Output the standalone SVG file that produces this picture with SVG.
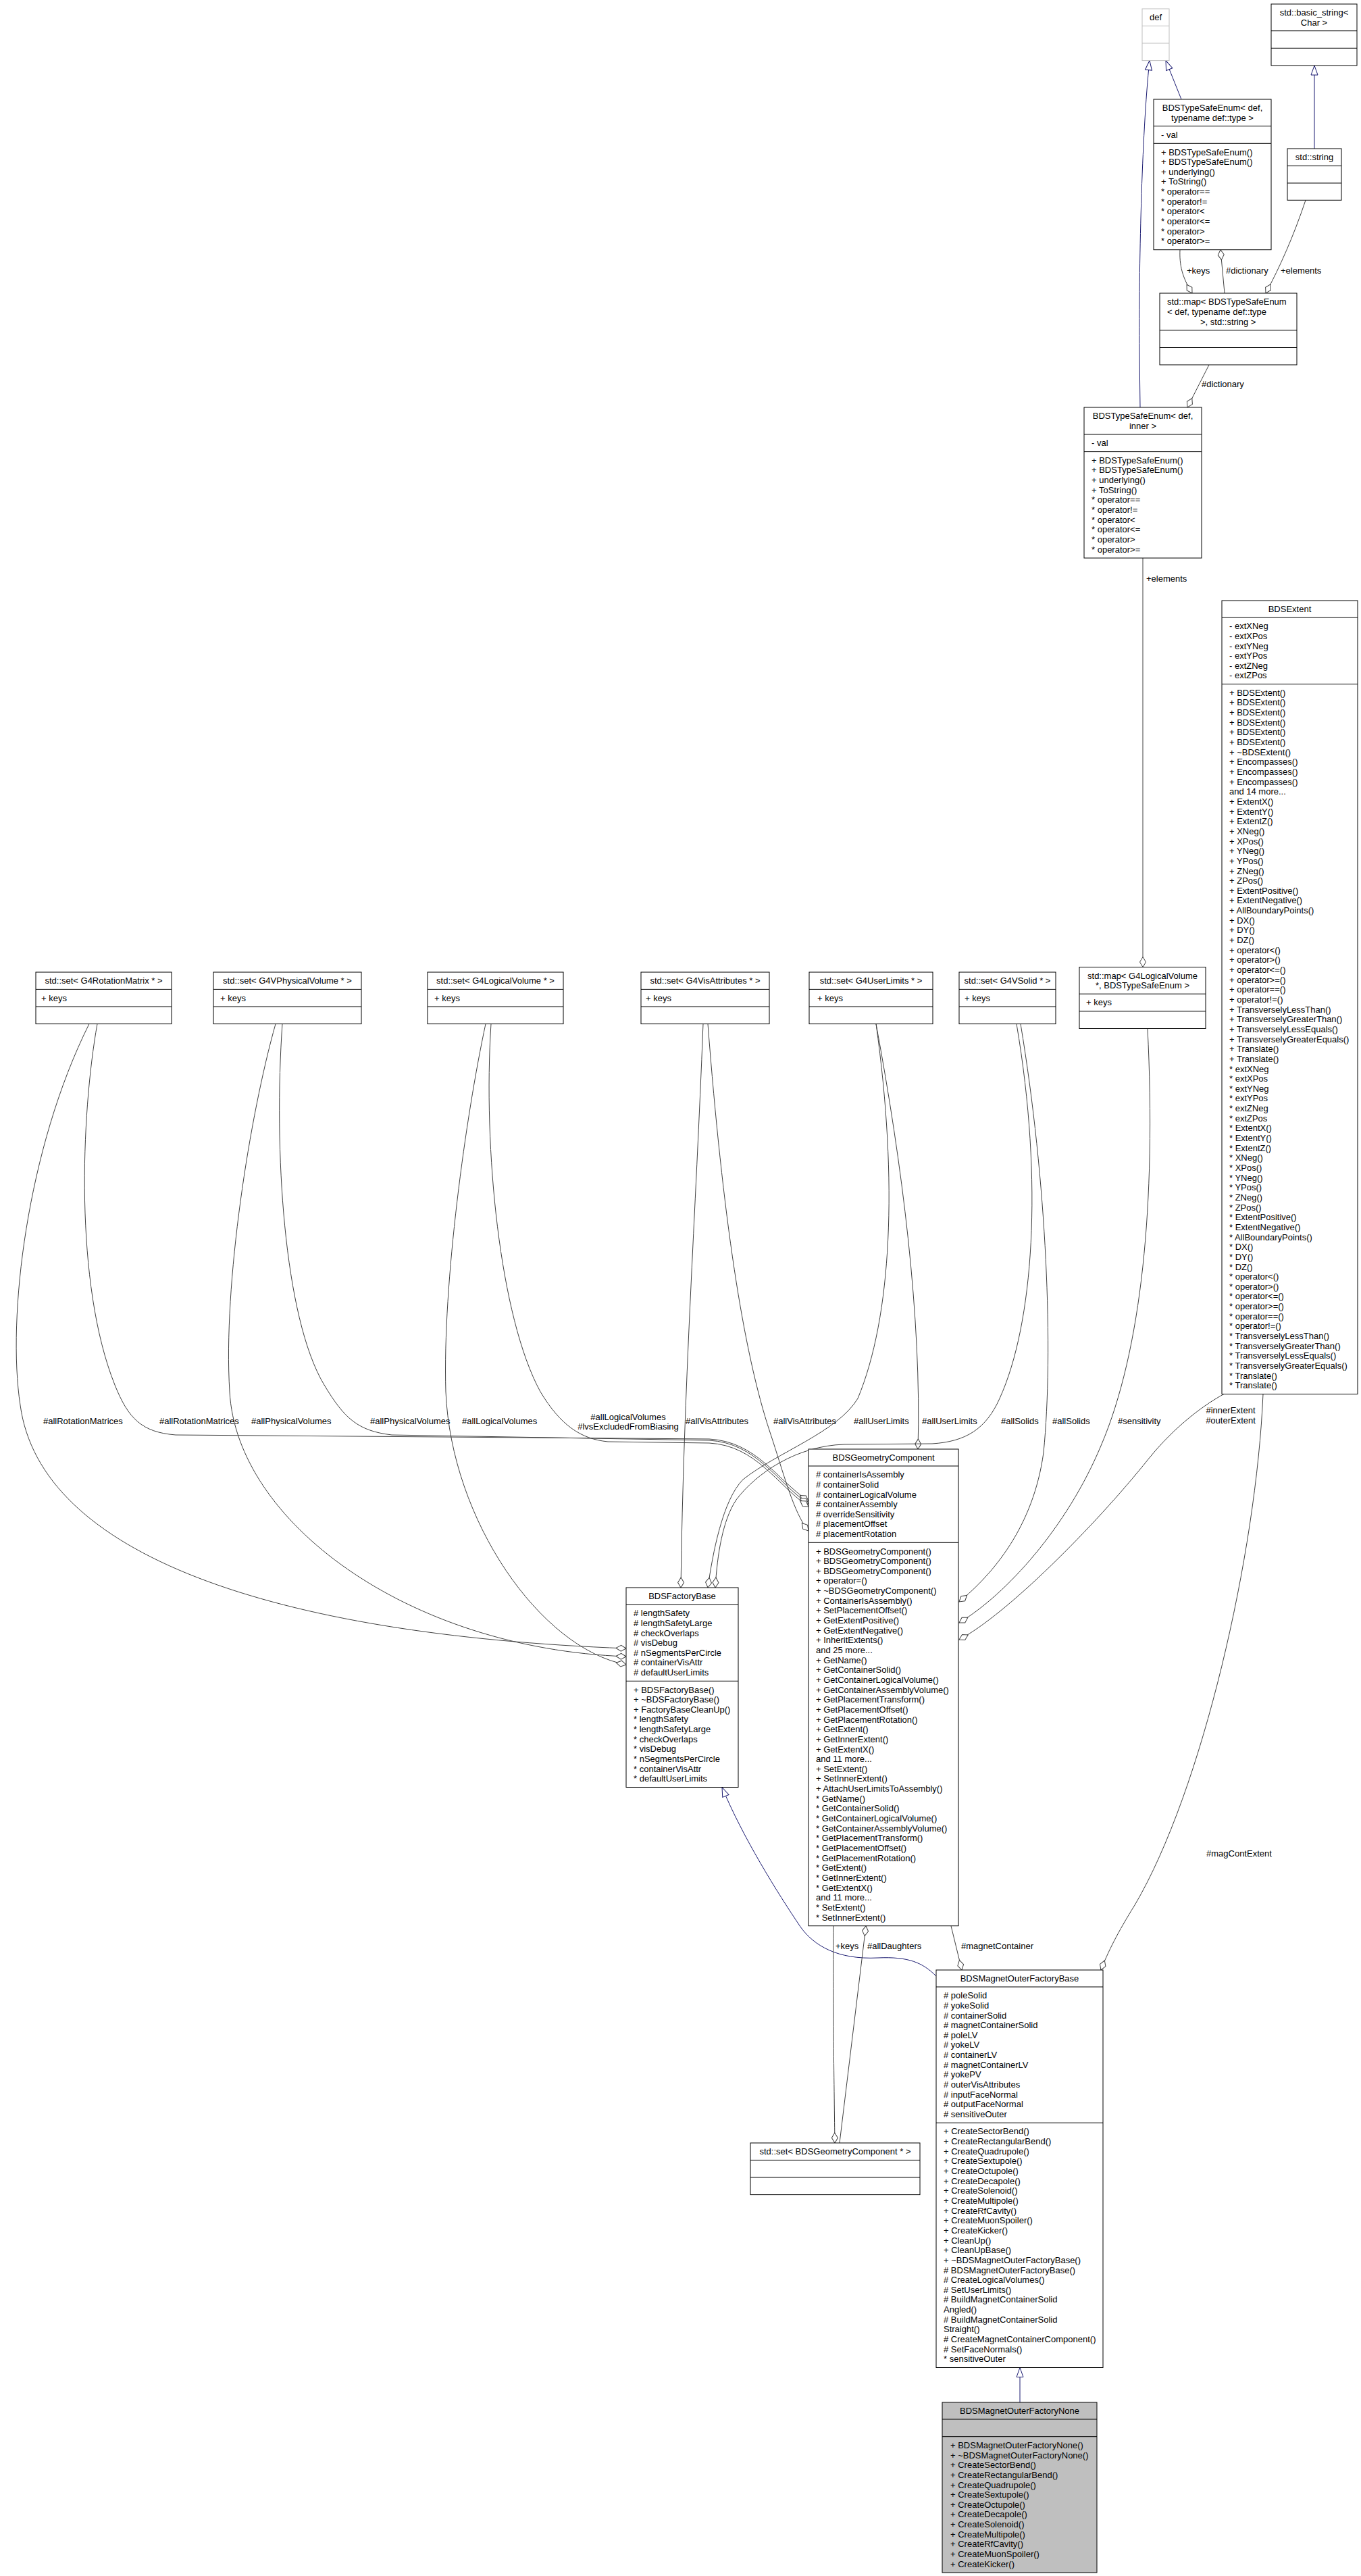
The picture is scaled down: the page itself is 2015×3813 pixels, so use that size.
<svg xmlns="http://www.w3.org/2000/svg" width="2015" height="3813" viewBox="0 0 2015 3813">
<style>
text{font-family:"Liberation Sans",Arial,Helvetica,sans-serif;font-size:13px;fill:#000}
.c{text-anchor:middle}
.n rect{fill:#fff;stroke:#000;stroke-width:1}
.n line{stroke:#000;stroke-width:1}
.g rect{fill:#bfbfbf}
.u rect,.u line{stroke:#bfbfbf}
.e{fill:none;stroke:#404040;stroke-width:1;marker-end:url(#dia)}
.i{fill:none;stroke:#191970;stroke-width:1;marker-end:url(#tri)}
</style>
<defs>
<marker id="dia" markerUnits="userSpaceOnUse" markerWidth="16" markerHeight="12" refX="15" refY="5" orient="auto" overflow="visible"><path d="M0,5 L7.5,0.5 L15,5 L7.5,9.5 Z" fill="#fff" stroke="#404040" stroke-width="1"/></marker>
<marker id="tri" markerUnits="userSpaceOnUse" markerWidth="15" markerHeight="12" refX="14" refY="5" orient="auto" overflow="visible"><path d="M0,0 L14,5 L0,10 Z" fill="#fff" stroke="#191970" stroke-width="1"/></marker>
</defs>
<rect width="2015" height="3813" fill="#fff"/>

<g id="connectors">
<path class="i" d="M1749,147 L1726,89.6"/>
<path class="i" d="M1688,603 L1687,520 C1686,400 1690,200 1702,89.6"/>
<path class="i" d="M1946,220 L1946,97"/>
<path class="i" d="M1510,3556 L1510,3504.5"/>
<path class="i" d="M1386,2925 C1366,2905 1345,2896 1300,2898 C1240,2901 1205,2880 1185,2852 C1150,2800 1100,2720 1069,2645.5"/>

<path class="e" d="M1747,369.7 C1746,392 1750,410 1765,434"/>
<path class="e" d="M1813,434 L1807,369.7"/>
<path class="e" d="M1933,296.3 C1915,350 1895,395 1874,434"/>
<path class="e" d="M1790,540 L1758,603"/>
<path class="e" d="M1692,826 L1692,1431.5"/>

<path class="e" d="M132,1515.6 C40,1700 10,1950 30,2080 C60,2300 400,2420 927,2440"/>
<path class="e" d="M144,1515.6 C120,1650 110,1900 170,2050 C190,2100 210,2120 260,2124 L1050,2130 C1120,2134 1150,2190 1197,2222"/>
<path class="e" d="M408,1515.6 C370,1650 330,1900 340,2060 C350,2250 600,2440 927,2452"/>
<path class="e" d="M418,1515.6 C405,1700 420,1950 480,2050 C510,2100 530,2118 580,2124 L1050,2132 C1120,2136 1150,2194 1197,2226"/>
<path class="e" d="M719,1515.6 C690,1650 655,1900 660,2060 C668,2250 800,2440 927,2464"/>
<path class="e" d="M727,1515.6 C715,1700 740,1950 800,2060 C830,2110 860,2130 900,2134 L1050,2136 C1120,2140 1150,2198 1197,2230"/>
<path class="e" d="M1041,1515.6 C1030,1800 1012,2050 1008,2350"/>
<path class="e" d="M1048,1515.6 C1070,1800 1100,2000 1140,2120 C1160,2180 1175,2240 1197,2266"/>
<path class="e" d="M1297,1515.6 C1330,1750 1320,1950 1270,2070 C1240,2120 1150,2150 1100,2190 C1070,2220 1055,2300 1048,2350"/>
<path class="e" d="M1297,1515.6 C1335,1720 1365,1950 1359,2145"/>
<path class="e" d="M1505,1515.6 C1545,1750 1530,1960 1480,2070 C1460,2115 1430,2134 1380,2137 L1250,2138 C1180,2140 1120,2180 1090,2220 C1070,2250 1062,2300 1059,2350"/>
<path class="e" d="M1511,1515.6 C1550,1750 1560,2000 1545,2150 C1530,2260 1470,2330 1420,2371"/>
<path class="e" d="M1699,1522.5 C1712,1780 1690,2000 1630,2140 C1580,2260 1490,2360 1420,2402"/>
<path class="e" d="M1812,2063.5 C1785,2078 1740,2110 1700,2160 C1620,2260 1490,2390 1420,2427"/>
<path class="e" d="M1870,2063.5 C1860,2300 1780,2650 1680,2820 C1655,2860 1640,2890 1630,2916"/>
<path class="e" d="M1408,2850.7 L1424,2916"/>
<path class="e" d="M1234,2850.7 C1233,2950 1235,3100 1236,3172"/>
<path class="e" d="M1243,3172 L1282,2850.7"/>

<text x="1757" y="405">+keys</text>
<text x="1815" y="405">#dictionary</text>
<text x="1896" y="405">+elements</text>
<text x="1779" y="573">#dictionary</text>
<text x="1697" y="861">+elements</text>
<text x="64" y="2107.5">#allRotationMatrices</text>
<text x="236" y="2107.5">#allRotationMatrices</text>
<text x="372" y="2107.5">#allPhysicalVolumes</text>
<text x="548" y="2107.5">#allPhysicalVolumes</text>
<text x="684" y="2107.5">#allLogicalVolumes</text>
<text class="c" x="930" y="2101.5">#allLogicalVolumes</text>
<text class="c" x="930" y="2115.5">#lvsExcludedFromBiasing</text>
<text x="1015" y="2107.5">#allVisAttributes</text>
<text x="1145" y="2107.5">#allVisAttributes</text>
<text x="1264" y="2107.5">#allUserLimits</text>
<text x="1365" y="2107.5">#allUserLimits</text>
<text x="1482" y="2107.5">#allSolids</text>
<text x="1558" y="2107.5">#allSolids</text>
<text x="1655" y="2107.5">#sensitivity</text>
<text class="c" x="1822" y="2092">#innerExtent</text>
<text class="c" x="1822" y="2107">#outerExtent</text>
<text x="1786" y="2748">#magContExtent</text>
<text x="1237" y="2885">+keys</text>
<text x="1284" y="2885">#allDaughters</text>
<text x="1423" y="2885">#magnetContainer</text>
</g>

<g id="node-def" class="n u">
<rect x="1691" y="13" width="40" height="76.6"/>
<line x1="1691" y1="38.4" x2="1731" y2="38.4"/>
<line x1="1691" y1="64" x2="1731" y2="64"/>
<text class="c" x="1711" y="30.2">def</text>
</g>

<g id="node-basic_string" class="n">
<rect x="1882" y="6" width="127" height="91"/>
<line x1="1882" y1="45.7" x2="2009" y2="45.7"/>
<line x1="1882" y1="71.3" x2="2009" y2="71.3"/>
<text class="c" x="1945.5" y="23.2">std::basic_string&lt;</text>
<text class="c" x="1945.5" y="37.9">Char &gt;</text>
</g>

<g id="node-BDSTypeSafeEnum-type" class="n">
<rect x="1708" y="147" width="174" height="222.7"/>
<line x1="1708" y1="186.7" x2="1882" y2="186.7"/>
<line x1="1708" y1="212.3" x2="1882" y2="212.3"/>
<text class="c" x="1795" y="164.2">BDSTypeSafeEnum&lt; def,</text>
<text class="c" x="1795" y="178.9">typename def::type &gt;</text>
<text x="1719" y="203.9">- val</text>
<text x="1719" y="229.5"><tspan x="1719" dy="0">+ BDSTypeSafeEnum()</tspan><tspan x="1719" dy="14.65">+ BDSTypeSafeEnum()</tspan><tspan x="1719" dy="14.65">+ underlying()</tspan><tspan x="1719" dy="14.65">+ ToString()</tspan><tspan x="1719" dy="14.65">* operator==</tspan><tspan x="1719" dy="14.65">* operator!=</tspan><tspan x="1719" dy="14.65">* operator&lt;</tspan><tspan x="1719" dy="14.65">* operator&lt;=</tspan><tspan x="1719" dy="14.65">* operator&gt;</tspan><tspan x="1719" dy="14.65">* operator&gt;=</tspan></text>
</g>

<g id="node-std-string" class="n">
<rect x="1906" y="220" width="80" height="76.3"/>
<line x1="1906" y1="245.6" x2="1986" y2="245.6"/>
<line x1="1906" y1="271" x2="1986" y2="271"/>
<text class="c" x="1946" y="237.2">std::string</text>
</g>

<g id="node-map-enum-string" class="n">
<rect x="1717" y="434" width="203" height="106"/>
<line x1="1717" y1="488.9" x2="1920" y2="488.9"/>
<line x1="1717" y1="514.5" x2="1920" y2="514.5"/>
<text x="1728" y="451.2">std::map&lt; BDSTypeSafeEnum</text>
<text x="1728" y="465.9">&lt; def, typename def::type</text>
<text x="1777" y="480.5">&gt;, std::string &gt;</text>
</g>

<g id="node-BDSTypeSafeEnum-inner" class="n">
<rect x="1605" y="603" width="174" height="223"/>
<line x1="1605" y1="643" x2="1779" y2="643"/>
<line x1="1605" y1="668.6" x2="1779" y2="668.6"/>
<text class="c" x="1692" y="620.2">BDSTypeSafeEnum&lt; def,</text>
<text class="c" x="1692" y="634.9">inner &gt;</text>
<text x="1616" y="660.2">- val</text>
<text x="1616" y="685.8"><tspan x="1616" dy="0">+ BDSTypeSafeEnum()</tspan><tspan x="1616" dy="14.65">+ BDSTypeSafeEnum()</tspan><tspan x="1616" dy="14.65">+ underlying()</tspan><tspan x="1616" dy="14.65">+ ToString()</tspan><tspan x="1616" dy="14.65">* operator==</tspan><tspan x="1616" dy="14.65">* operator!=</tspan><tspan x="1616" dy="14.65">* operator&lt;</tspan><tspan x="1616" dy="14.65">* operator&lt;=</tspan><tspan x="1616" dy="14.65">* operator&gt;</tspan><tspan x="1616" dy="14.65">* operator&gt;=</tspan></text>
</g>

<g id="node-BDSExtent" class="n">
<rect x="1809" y="889" width="201" height="1174.5"/>
<line x1="1809" y1="914" x2="2010" y2="914"/>
<line x1="1809" y1="1012.6" x2="2010" y2="1012.6"/>
<text class="c" x="1909.5" y="906.2">BDSExtent</text>
<text x="1820" y="931.2"><tspan x="1820" dy="0">- extXNeg</tspan><tspan x="1820" dy="14.65">- extXPos</tspan><tspan x="1820" dy="14.65">- extYNeg</tspan><tspan x="1820" dy="14.65">- extYPos</tspan><tspan x="1820" dy="14.65">- extZNeg</tspan><tspan x="1820" dy="14.65">- extZPos</tspan></text>
<text x="1820" y="1029.8"><tspan x="1820" dy="0">+ BDSExtent()</tspan><tspan x="1820" dy="14.65">+ BDSExtent()</tspan><tspan x="1820" dy="14.65">+ BDSExtent()</tspan><tspan x="1820" dy="14.65">+ BDSExtent()</tspan><tspan x="1820" dy="14.65">+ BDSExtent()</tspan><tspan x="1820" dy="14.65">+ BDSExtent()</tspan><tspan x="1820" dy="14.65">+ ~BDSExtent()</tspan><tspan x="1820" dy="14.65">+ Encompasses()</tspan><tspan x="1820" dy="14.65">+ Encompasses()</tspan><tspan x="1820" dy="14.65">+ Encompasses()</tspan><tspan x="1820" dy="14.65">and 14 more...</tspan><tspan x="1820" dy="14.65">+ ExtentX()</tspan><tspan x="1820" dy="14.65">+ ExtentY()</tspan><tspan x="1820" dy="14.65">+ ExtentZ()</tspan><tspan x="1820" dy="14.65">+ XNeg()</tspan><tspan x="1820" dy="14.65">+ XPos()</tspan><tspan x="1820" dy="14.65">+ YNeg()</tspan><tspan x="1820" dy="14.65">+ YPos()</tspan><tspan x="1820" dy="14.65">+ ZNeg()</tspan><tspan x="1820" dy="14.65">+ ZPos()</tspan><tspan x="1820" dy="14.65">+ ExtentPositive()</tspan><tspan x="1820" dy="14.65">+ ExtentNegative()</tspan><tspan x="1820" dy="14.65">+ AllBoundaryPoints()</tspan><tspan x="1820" dy="14.65">+ DX()</tspan><tspan x="1820" dy="14.65">+ DY()</tspan><tspan x="1820" dy="14.65">+ DZ()</tspan><tspan x="1820" dy="14.65">+ operator&lt;()</tspan><tspan x="1820" dy="14.65">+ operator&gt;()</tspan><tspan x="1820" dy="14.65">+ operator&lt;=()</tspan><tspan x="1820" dy="14.65">+ operator&gt;=()</tspan><tspan x="1820" dy="14.65">+ operator==()</tspan><tspan x="1820" dy="14.65">+ operator!=()</tspan><tspan x="1820" dy="14.65">+ TransverselyLessThan()</tspan><tspan x="1820" dy="14.65">+ TransverselyGreaterThan()</tspan><tspan x="1820" dy="14.65">+ TransverselyLessEquals()</tspan><tspan x="1820" dy="14.65">+ TransverselyGreaterEquals()</tspan><tspan x="1820" dy="14.65">+ Translate()</tspan><tspan x="1820" dy="14.65">+ Translate()</tspan><tspan x="1820" dy="14.65">* extXNeg</tspan><tspan x="1820" dy="14.65">* extXPos</tspan><tspan x="1820" dy="14.65">* extYNeg</tspan><tspan x="1820" dy="14.65">* extYPos</tspan><tspan x="1820" dy="14.65">* extZNeg</tspan><tspan x="1820" dy="14.65">* extZPos</tspan><tspan x="1820" dy="14.65">* ExtentX()</tspan><tspan x="1820" dy="14.65">* ExtentY()</tspan><tspan x="1820" dy="14.65">* ExtentZ()</tspan><tspan x="1820" dy="14.65">* XNeg()</tspan><tspan x="1820" dy="14.65">* XPos()</tspan><tspan x="1820" dy="14.65">* YNeg()</tspan><tspan x="1820" dy="14.65">* YPos()</tspan><tspan x="1820" dy="14.65">* ZNeg()</tspan><tspan x="1820" dy="14.65">* ZPos()</tspan><tspan x="1820" dy="14.65">* ExtentPositive()</tspan><tspan x="1820" dy="14.65">* ExtentNegative()</tspan><tspan x="1820" dy="14.65">* AllBoundaryPoints()</tspan><tspan x="1820" dy="14.65">* DX()</tspan><tspan x="1820" dy="14.65">* DY()</tspan><tspan x="1820" dy="14.65">* DZ()</tspan><tspan x="1820" dy="14.65">* operator&lt;()</tspan><tspan x="1820" dy="14.65">* operator&gt;()</tspan><tspan x="1820" dy="14.65">* operator&lt;=()</tspan><tspan x="1820" dy="14.65">* operator&gt;=()</tspan><tspan x="1820" dy="14.65">* operator==()</tspan><tspan x="1820" dy="14.65">* operator!=()</tspan><tspan x="1820" dy="14.65">* TransverselyLessThan()</tspan><tspan x="1820" dy="14.65">* TransverselyGreaterThan()</tspan><tspan x="1820" dy="14.65">* TransverselyLessEquals()</tspan><tspan x="1820" dy="14.65">* TransverselyGreaterEquals()</tspan><tspan x="1820" dy="14.65">* Translate()</tspan><tspan x="1820" dy="14.65">* Translate()</tspan></text>
</g>

<g id="node-set-G4RotationMatrix" class="n">
<rect x="53" y="1439" width="201" height="76.6"/>
<line x1="53" y1="1464.4" x2="254" y2="1464.4"/>
<line x1="53" y1="1490" x2="254" y2="1490"/>
<text class="c" x="153.5" y="1456.2">std::set&lt; G4RotationMatrix * &gt;</text>
<text x="61" y="1481.6">+ keys</text>
</g>

<g id="node-set-G4VPhysicalVolume" class="n">
<rect x="316" y="1439" width="219" height="76.6"/>
<line x1="316" y1="1464.4" x2="535" y2="1464.4"/>
<line x1="316" y1="1490" x2="535" y2="1490"/>
<text class="c" x="425.5" y="1456.2">std::set&lt; G4VPhysicalVolume * &gt;</text>
<text x="326" y="1481.6">+ keys</text>
</g>

<g id="node-set-G4LogicalVolume" class="n">
<rect x="633" y="1439" width="201" height="76.6"/>
<line x1="633" y1="1464.4" x2="834" y2="1464.4"/>
<line x1="633" y1="1490" x2="834" y2="1490"/>
<text class="c" x="733.5" y="1456.2">std::set&lt; G4LogicalVolume * &gt;</text>
<text x="643" y="1481.6">+ keys</text>
</g>

<g id="node-set-G4VisAttributes" class="n">
<rect x="949" y="1439" width="190" height="76.6"/>
<line x1="949" y1="1464.4" x2="1139" y2="1464.4"/>
<line x1="949" y1="1490" x2="1139" y2="1490"/>
<text class="c" x="1044" y="1456.2">std::set&lt; G4VisAttributes * &gt;</text>
<text x="956" y="1481.6">+ keys</text>
</g>

<g id="node-set-G4UserLimits" class="n">
<rect x="1198" y="1439" width="183" height="76.6"/>
<line x1="1198" y1="1464.4" x2="1381" y2="1464.4"/>
<line x1="1198" y1="1490" x2="1381" y2="1490"/>
<text class="c" x="1289.5" y="1456.2">std::set&lt; G4UserLimits * &gt;</text>
<text x="1210" y="1481.6">+ keys</text>
</g>

<g id="node-set-G4VSolid" class="n">
<rect x="1420" y="1439" width="143" height="76.6"/>
<line x1="1420" y1="1464.4" x2="1563" y2="1464.4"/>
<line x1="1420" y1="1490" x2="1563" y2="1490"/>
<text class="c" x="1491.5" y="1456.2">std::set&lt; G4VSolid * &gt;</text>
<text x="1428" y="1481.6">+ keys</text>
</g>

<g id="node-map-G4LogicalVolume" class="n">
<rect x="1598" y="1431.5" width="187" height="91"/>
<line x1="1598" y1="1471.2" x2="1785" y2="1471.2"/>
<line x1="1598" y1="1496.9" x2="1785" y2="1496.9"/>
<text class="c" x="1691.5" y="1448.7">std::map&lt; G4LogicalVolume</text>
<text class="c" x="1691.5" y="1463.4">*, BDSTypeSafeEnum &gt;</text>
<text x="1608" y="1488.4">+ keys</text>
</g>

<g id="node-BDSGeometryComponent" class="n">
<rect x="1197" y="2145" width="222" height="705.7"/>
<line x1="1197" y1="2170" x2="1419" y2="2170"/>
<line x1="1197" y1="2283.3" x2="1419" y2="2283.3"/>
<text class="c" x="1308" y="2162.2">BDSGeometryComponent</text>
<text x="1208" y="2187.2"><tspan x="1208" dy="0"># containerIsAssembly</tspan><tspan x="1208" dy="14.65"># containerSolid</tspan><tspan x="1208" dy="14.65"># containerLogicalVolume</tspan><tspan x="1208" dy="14.65"># containerAssembly</tspan><tspan x="1208" dy="14.65"># overrideSensitivity</tspan><tspan x="1208" dy="14.65"># placementOffset</tspan><tspan x="1208" dy="14.65"># placementRotation</tspan></text>
<text x="1208" y="2300.5"><tspan x="1208" dy="0">+ BDSGeometryComponent()</tspan><tspan x="1208" dy="14.65">+ BDSGeometryComponent()</tspan><tspan x="1208" dy="14.65">+ BDSGeometryComponent()</tspan><tspan x="1208" dy="14.65">+ operator=()</tspan><tspan x="1208" dy="14.65">+ ~BDSGeometryComponent()</tspan><tspan x="1208" dy="14.65">+ ContainerIsAssembly()</tspan><tspan x="1208" dy="14.65">+ SetPlacementOffset()</tspan><tspan x="1208" dy="14.65">+ GetExtentPositive()</tspan><tspan x="1208" dy="14.65">+ GetExtentNegative()</tspan><tspan x="1208" dy="14.65">+ InheritExtents()</tspan><tspan x="1208" dy="14.65">and 25 more...</tspan><tspan x="1208" dy="14.65">+ GetName()</tspan><tspan x="1208" dy="14.65">+ GetContainerSolid()</tspan><tspan x="1208" dy="14.65">+ GetContainerLogicalVolume()</tspan><tspan x="1208" dy="14.65">+ GetContainerAssemblyVolume()</tspan><tspan x="1208" dy="14.65">+ GetPlacementTransform()</tspan><tspan x="1208" dy="14.65">+ GetPlacementOffset()</tspan><tspan x="1208" dy="14.65">+ GetPlacementRotation()</tspan><tspan x="1208" dy="14.65">+ GetExtent()</tspan><tspan x="1208" dy="14.65">+ GetInnerExtent()</tspan><tspan x="1208" dy="14.65">+ GetExtentX()</tspan><tspan x="1208" dy="14.65">and 11 more...</tspan><tspan x="1208" dy="14.65">+ SetExtent()</tspan><tspan x="1208" dy="14.65">+ SetInnerExtent()</tspan><tspan x="1208" dy="14.65">+ AttachUserLimitsToAssembly()</tspan><tspan x="1208" dy="14.65">* GetName()</tspan><tspan x="1208" dy="14.65">* GetContainerSolid()</tspan><tspan x="1208" dy="14.65">* GetContainerLogicalVolume()</tspan><tspan x="1208" dy="14.65">* GetContainerAssemblyVolume()</tspan><tspan x="1208" dy="14.65">* GetPlacementTransform()</tspan><tspan x="1208" dy="14.65">* GetPlacementOffset()</tspan><tspan x="1208" dy="14.65">* GetPlacementRotation()</tspan><tspan x="1208" dy="14.65">* GetExtent()</tspan><tspan x="1208" dy="14.65">* GetInnerExtent()</tspan><tspan x="1208" dy="14.65">* GetExtentX()</tspan><tspan x="1208" dy="14.65">and 11 more...</tspan><tspan x="1208" dy="14.65">* SetExtent()</tspan><tspan x="1208" dy="14.65">* SetInnerExtent()</tspan></text>
</g>

<g id="node-BDSFactoryBase" class="n">
<rect x="927" y="2350" width="166" height="295.5"/>
<line x1="927" y1="2375" x2="1093" y2="2375"/>
<line x1="927" y1="2488.3" x2="1093" y2="2488.3"/>
<text class="c" x="1010" y="2367.2">BDSFactoryBase</text>
<text x="938" y="2392.2"><tspan x="938" dy="0"># lengthSafety</tspan><tspan x="938" dy="14.65"># lengthSafetyLarge</tspan><tspan x="938" dy="14.65"># checkOverlaps</tspan><tspan x="938" dy="14.65"># visDebug</tspan><tspan x="938" dy="14.65"># nSegmentsPerCircle</tspan><tspan x="938" dy="14.65"># containerVisAttr</tspan><tspan x="938" dy="14.65"># defaultUserLimits</tspan></text>
<text x="938" y="2505.5"><tspan x="938" dy="0">+ BDSFactoryBase()</tspan><tspan x="938" dy="14.65">+ ~BDSFactoryBase()</tspan><tspan x="938" dy="14.65">+ FactoryBaseCleanUp()</tspan><tspan x="938" dy="14.65">* lengthSafety</tspan><tspan x="938" dy="14.65">* lengthSafetyLarge</tspan><tspan x="938" dy="14.65">* checkOverlaps</tspan><tspan x="938" dy="14.65">* visDebug</tspan><tspan x="938" dy="14.65">* nSegmentsPerCircle</tspan><tspan x="938" dy="14.65">* containerVisAttr</tspan><tspan x="938" dy="14.65">* defaultUserLimits</tspan></text>
</g>

<g id="node-set-BDSGeometryComponent" class="n">
<rect x="1111" y="3172" width="251" height="76.6"/>
<line x1="1111" y1="3197.4" x2="1362" y2="3197.4"/>
<line x1="1111" y1="3223" x2="1362" y2="3223"/>
<text class="c" x="1236.5" y="3189.2">std::set&lt; BDSGeometryComponent * &gt;</text>
</g>

<g id="node-BDSMagnetOuterFactoryBase" class="n">
<rect x="1386" y="2916" width="247" height="588.5"/>
<line x1="1386" y1="2941" x2="1633" y2="2941"/>
<line x1="1386" y1="3142.2" x2="1633" y2="3142.2"/>
<text class="c" x="1509.5" y="2933.2">BDSMagnetOuterFactoryBase</text>
<text x="1397" y="2958.2"><tspan x="1397" dy="0"># poleSolid</tspan><tspan x="1397" dy="14.65"># yokeSolid</tspan><tspan x="1397" dy="14.65"># containerSolid</tspan><tspan x="1397" dy="14.65"># magnetContainerSolid</tspan><tspan x="1397" dy="14.65"># poleLV</tspan><tspan x="1397" dy="14.65"># yokeLV</tspan><tspan x="1397" dy="14.65"># containerLV</tspan><tspan x="1397" dy="14.65"># magnetContainerLV</tspan><tspan x="1397" dy="14.65"># yokePV</tspan><tspan x="1397" dy="14.65"># outerVisAttributes</tspan><tspan x="1397" dy="14.65"># inputFaceNormal</tspan><tspan x="1397" dy="14.65"># outputFaceNormal</tspan><tspan x="1397" dy="14.65"># sensitiveOuter</tspan></text>
<text x="1397" y="3159.4"><tspan x="1397" dy="0">+ CreateSectorBend()</tspan><tspan x="1397" dy="14.65">+ CreateRectangularBend()</tspan><tspan x="1397" dy="14.65">+ CreateQuadrupole()</tspan><tspan x="1397" dy="14.65">+ CreateSextupole()</tspan><tspan x="1397" dy="14.65">+ CreateOctupole()</tspan><tspan x="1397" dy="14.65">+ CreateDecapole()</tspan><tspan x="1397" dy="14.65">+ CreateSolenoid()</tspan><tspan x="1397" dy="14.65">+ CreateMultipole()</tspan><tspan x="1397" dy="14.65">+ CreateRfCavity()</tspan><tspan x="1397" dy="14.65">+ CreateMuonSpoiler()</tspan><tspan x="1397" dy="14.65">+ CreateKicker()</tspan><tspan x="1397" dy="14.65">+ CleanUp()</tspan><tspan x="1397" dy="14.65">+ CleanUpBase()</tspan><tspan x="1397" dy="14.65">+ ~BDSMagnetOuterFactoryBase()</tspan><tspan x="1397" dy="14.65"># BDSMagnetOuterFactoryBase()</tspan><tspan x="1397" dy="14.65"># CreateLogicalVolumes()</tspan><tspan x="1397" dy="14.65"># SetUserLimits()</tspan><tspan x="1397" dy="14.65"># BuildMagnetContainerSolid</tspan><tspan x="1397" dy="14.65">Angled()</tspan><tspan x="1397" dy="14.65"># BuildMagnetContainerSolid</tspan><tspan x="1397" dy="14.65">Straight()</tspan><tspan x="1397" dy="14.65"># CreateMagnetContainerComponent()</tspan><tspan x="1397" dy="14.65"># SetFaceNormals()</tspan><tspan x="1397" dy="14.65">* sensitiveOuter</tspan></text>
</g>

<g id="node-BDSMagnetOuterFactoryNone" class="n g">
<rect x="1395" y="3556" width="229" height="251.9"/>
<line x1="1395" y1="3581" x2="1624" y2="3581"/>
<line x1="1395" y1="3606.7" x2="1624" y2="3606.7"/>
<text class="c" x="1509.5" y="3573.2">BDSMagnetOuterFactoryNone</text>
<text x="1407" y="3623.9"><tspan x="1407" dy="0">+ BDSMagnetOuterFactoryNone()</tspan><tspan x="1407" dy="14.65">+ ~BDSMagnetOuterFactoryNone()</tspan><tspan x="1407" dy="14.65">+ CreateSectorBend()</tspan><tspan x="1407" dy="14.65">+ CreateRectangularBend()</tspan><tspan x="1407" dy="14.65">+ CreateQuadrupole()</tspan><tspan x="1407" dy="14.65">+ CreateSextupole()</tspan><tspan x="1407" dy="14.65">+ CreateOctupole()</tspan><tspan x="1407" dy="14.65">+ CreateDecapole()</tspan><tspan x="1407" dy="14.65">+ CreateSolenoid()</tspan><tspan x="1407" dy="14.65">+ CreateMultipole()</tspan><tspan x="1407" dy="14.65">+ CreateRfCavity()</tspan><tspan x="1407" dy="14.65">+ CreateMuonSpoiler()</tspan><tspan x="1407" dy="14.65">+ CreateKicker()</tspan></text>
</g>
</svg>
